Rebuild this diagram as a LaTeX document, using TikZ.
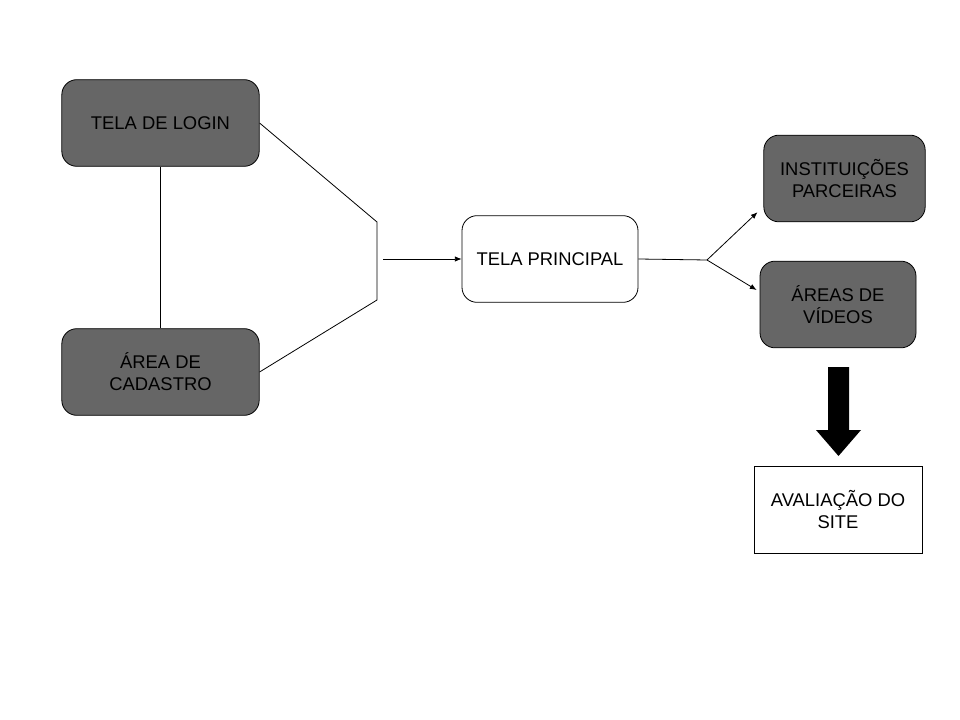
\documentclass[tikz,border=0pt]{standalone}
\usepackage{fontspec}
\setmainfont{Liberation Sans}
\usetikzlibrary{arrows.meta,calc}
\definecolor{boxgray}{HTML}{666666}
\begin{document}
\begin{tikzpicture}[x=0.75pt,y=-0.75pt,
  grayb/.style={draw=black,fill=boxgray,rounded corners=11.25pt,line width=0.6pt,
    minimum width=#1,minimum height=65pt,align=center,inner sep=0pt,
    font=\fontsize{13.8}{16.5}\selectfont},
  whiteb/.style={draw=black,fill=white,line width=0.6pt,
    minimum height=65pt,align=center,inner sep=0pt,
    font=\fontsize{13.8}{16.5}\selectfont},
  conn/.style={line width=0.6pt},
  arr/.style={line width=0.6pt,-{Latex[length=5pt,width=4pt]}}]
\useasboundingbox (0,0) rectangle (960,720);
\node[grayb=148pt] (login) at (160.5,123) {TELA DE LOGIN};
\node[grayb=148pt] (cad) at (160.5,372) {ÁREA DE\\CADASTRO};
\node[whiteb,rounded corners=11.25pt,minimum width=132pt] (main) at (550,259) {TELA PRINCIPAL};
\node[grayb=121pt] (inst) at (844.5,178.5) {INSTITUIÇÕES\\PARCEIRAS};
\node[grayb=117pt] (vid) at (838,304.5) {ÁREAS DE\\VÍDEOS};
\node[whiteb,minimum width=126pt] (aval) at (838,510) {AVALIAÇÃO DO\\SITE};
\coordinate (jt) at (377,222);
\coordinate (jb) at (377,300);
\coordinate (js) at (383,259);
\coordinate (jr) at (707,260);
\draw[conn] (login.south) -- (cad.north);
\draw[conn] (login.east) -- (jt) -- (jb) -- (cad.east);
\draw[arr] (js) -- (main.west);
\draw[conn] (main.east) -- (jr);
\draw[arr] (jr) -- ($(inst.south west)+(-6,-10)$);
\draw[arr] (jr) -- ($(vid.west)+(-3,-14.5)$);
\fill[black] (828,367) -- (849,367) -- (849,430) -- (861,430) -- (838.5,456) -- (816,430) -- (828,430) -- cycle;
\end{tikzpicture}
\end{document}
